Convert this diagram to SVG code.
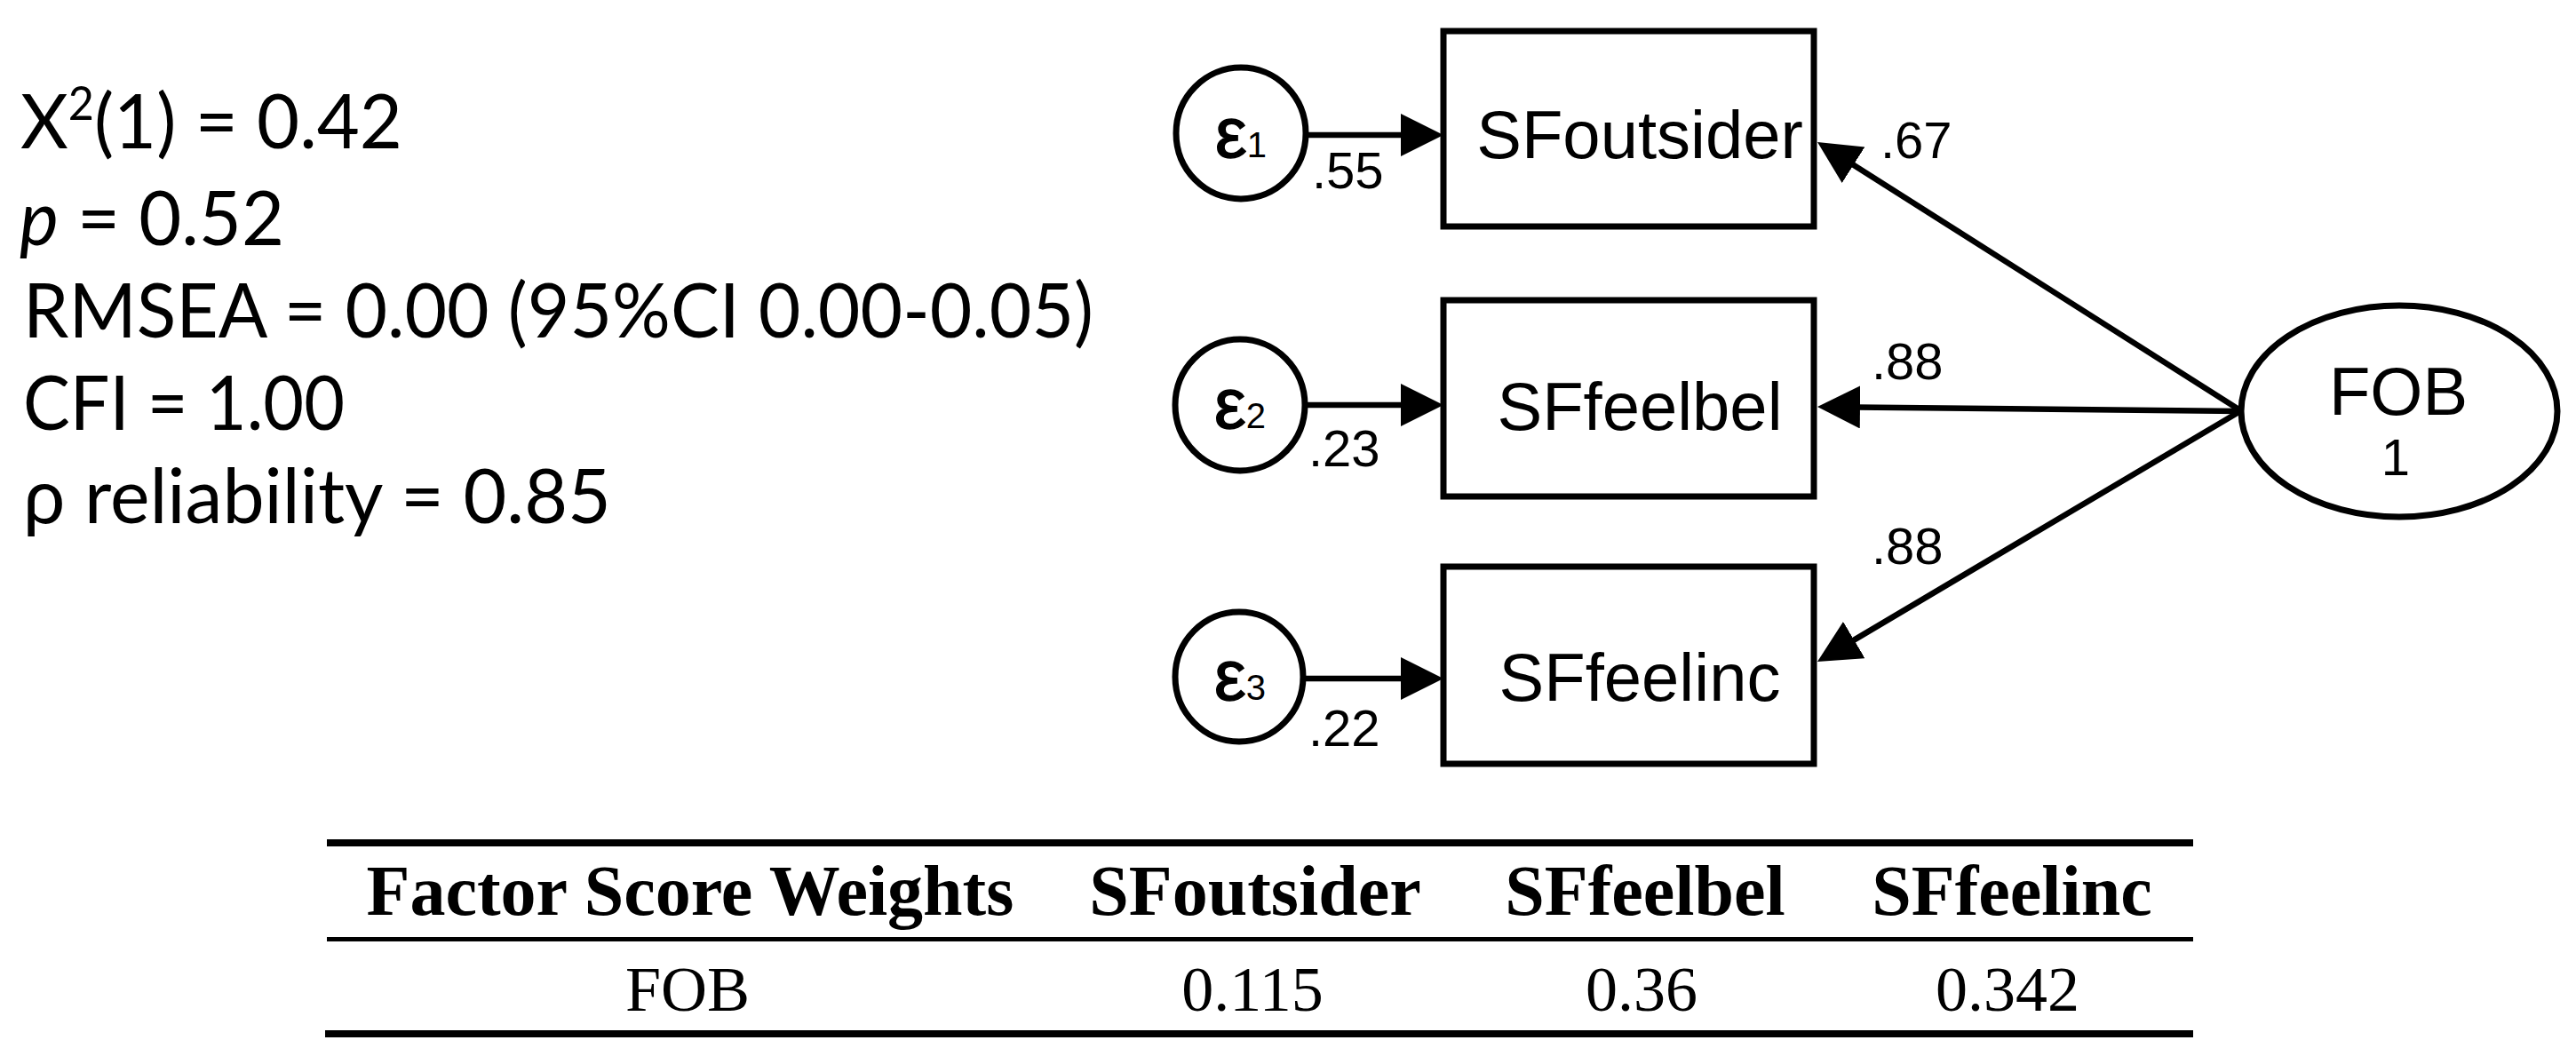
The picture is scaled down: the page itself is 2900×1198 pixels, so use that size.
<svg xmlns="http://www.w3.org/2000/svg" width="2900" height="1198" viewBox="0 0 2900 1198">
<defs>
<marker id="ah" markerUnits="userSpaceOnUse" markerWidth="50" markerHeight="50" refX="6" refY="24" orient="auto" viewBox="0 0 50 50">
<path d="M0,0 L48,24 L0,48 Z" fill="#000"/>
</marker>
</defs>
<style>
.stat{font-family:Lato,"Open Sans","DejaVu Sans",sans-serif;font-size:86px;fill:#000}
.node{fill:#fff;stroke:#000;stroke-width:7}
.lbl{font-family:"Liberation Sans",Arial,sans-serif;fill:#000}
.big{font-size:76px}
.coef{font-size:58px}
.eps{font-size:80px;stroke:#000;stroke-width:1.5}
.sub{font-size:40px;stroke-width:0}
.conn line{stroke:#000;stroke-width:6.5;marker-end:url(#ah)}
.th{font-family:"Liberation Serif","Times New Roman",serif;font-weight:bold;font-size:80px;fill:#000}
.td{font-family:"Liberation Serif","Times New Roman",serif;font-size:72px;fill:#000}
.rule{fill:#000}
</style>
<rect width="2900" height="1198" fill="#fff"/>

<g id="fit-stats">
<text class="stat" x="23" y="167" textLength="430" lengthAdjust="spacingAndGlyphs">X<tspan font-size="52" dy="-32">2</tspan><tspan dy="32">(1) = 0.42</tspan></text>
<text class="stat" x="22" y="276" textLength="298" lengthAdjust="spacingAndGlyphs"><tspan font-style="italic">p</tspan> = 0.52</text>
<text class="stat" x="26" y="380" textLength="1205" lengthAdjust="spacingAndGlyphs">RMSEA = 0.00 (95%CI 0.00-0.05)</text>
<text class="stat" x="26" y="484" textLength="362" lengthAdjust="spacingAndGlyphs">CFI = 1.00</text>
<text class="stat" x="26" y="589" textLength="662" lengthAdjust="spacingAndGlyphs">ρ reliability = 0.85</text>
</g>

<g class="conn" id="connectors">
<line x1="1470" y1="152" x2="1583" y2="152"/>
<line x1="1469" y1="456" x2="1583" y2="456"/>
<line x1="1468" y1="764" x2="1583" y2="764"/>
<line x1="2522" y1="462" x2="2081.5" y2="182.5"/>
<line x1="2522" y1="463" x2="2088" y2="458.4"/>
<line x1="2522" y1="463" x2="2082.1" y2="723.6"/>
</g>

<g id="e1">
<ellipse class="node" cx="1397" cy="150" rx="73" ry="74"/>
<text class="lbl eps" x="1368" y="177">ε<tspan class="sub">1</tspan></text>
</g>
<g id="e2">
<ellipse class="node" cx="1396" cy="456" rx="73" ry="74"/>
<text class="lbl eps" x="1367" y="482">ε<tspan class="sub">2</tspan></text>
</g>
<g id="e3">
<ellipse class="node" cx="1395" cy="762" rx="72" ry="73"/>
<text class="lbl eps" x="1367" y="788">ε<tspan class="sub">3</tspan></text>
</g>

<g id="SFoutsider">
<rect class="node" x="1625" y="35" width="417" height="220"/>
<text class="lbl big" x="1846" y="178" text-anchor="middle">SFoutsider</text>
</g>
<g id="SFfeelbel">
<rect class="node" x="1625" y="338" width="417" height="221"/>
<text class="lbl big" x="1846" y="484" text-anchor="middle">SFfeelbel</text>
</g>
<g id="SFfeelinc">
<rect class="node" x="1625" y="638" width="417" height="222"/>
<text class="lbl big" x="1846" y="789" text-anchor="middle">SFfeelinc</text>
</g>

<g id="FOB">
<ellipse class="node" cx="2701" cy="463" rx="178" ry="119"/>
<text class="lbl big" x="2700" y="467" text-anchor="middle">FOB</text>
<text class="lbl coef" x="2697" y="535" text-anchor="middle">1</text>
</g>

<g id="coef-labels">
<text class="lbl coef" x="1477" y="212">.55</text>
<text class="lbl coef" x="1473" y="525">.23</text>
<text class="lbl coef" x="1473" y="840">.22</text>
<text class="lbl coef" x="2117" y="178">.67</text>
<text class="lbl coef" x="2107" y="427">.88</text>
<text class="lbl coef" x="2107" y="635">.88</text>
</g>

<g id="table">
<rect class="rule" x="368" y="945" width="2101" height="8"/>
<rect class="rule" x="368" y="1055" width="2101" height="5"/>
<rect class="rule" x="366" y="1160" width="2103" height="8"/>
<text class="th" x="777" y="1030" text-anchor="middle">Factor Score Weights</text>
<text class="th" x="1413" y="1030" text-anchor="middle">SFoutsider</text>
<text class="th" x="1852" y="1030" text-anchor="middle">SFfeelbel</text>
<text class="th" x="2265" y="1030" text-anchor="middle">SFfeelinc</text>
<text class="td" x="774" y="1138" text-anchor="middle">FOB</text>
<text class="td" x="1410" y="1138" text-anchor="middle">0.115</text>
<text class="td" x="1848" y="1138" text-anchor="middle">0.36</text>
<text class="td" x="2260" y="1138" text-anchor="middle">0.342</text>
</g>
</svg>
